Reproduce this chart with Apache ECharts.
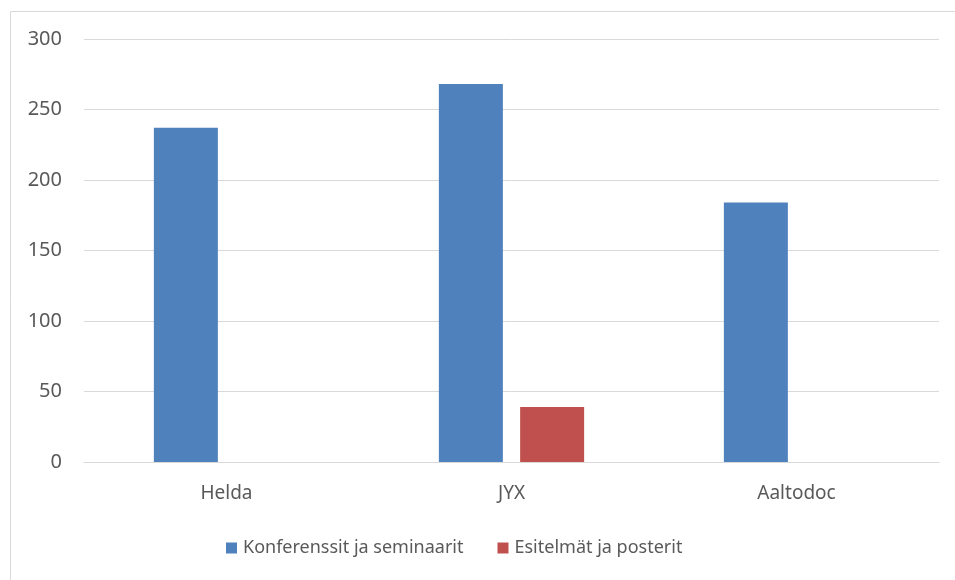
<!DOCTYPE html>
<html>
<head>
<meta charset="utf-8">
<script src="https://cdn.jsdelivr.net/npm/echarts@6/dist/echarts.min.js"></script>
<style>
  html, body { margin: 0; padding: 0; background: #fff; }
  #container { width: 955px; height: 580px; }
</style>
</head>
<body>
<div id="container"></div>
<script>
var categories = ["Helda", "JYX", "Aaltodoc"];
var konferenssit = [237, 268, 184];
var esitelmat = [null, 39, null];
var yTicks = { min: 0, max: 300, interval: 50 };

var dom = document.getElementById("container");
var myChart = echarts.init(dom, null, { renderer: "canvas" });

var font = "Noto Sans";
var textColor = "#595959";

var option = {
  animation: false,
  backgroundColor: "#fff",
  graphic: [
    {
      type: "rect",
      left: 8,
      top: 9,
      shape: { width: 1000, height: 700 },
      style: { fill: "none", stroke: "#D9D9D9", lineWidth: 1 },
      silent: true
    }
  ],
  grid: { left: 84, right: 16, top: 39, bottom: 118 },
  legend: {
    bottom: 18,
    left: 221,
    itemWidth: 11,
    itemHeight: 11,
    itemGap: 34,
    icon: "rect",
    textStyle: { color: textColor, fontFamily: font, fontSize: 18, padding: [0, 0, 0, 1] },
    data: ["Konferenssit ja seminaarit", "Esitelmät ja posterit"]
  },
  xAxis: {
    type: "category",
    data: categories,
    axisLine: { lineStyle: { color: "#D9D9D9", width: 1 } },
    axisTick: { show: false },
    axisLabel: { color: textColor, fontFamily: font, fontSize: 19, margin: 22 }
  },
  yAxis: {
    type: "value",
    min: yTicks.min,
    max: yTicks.max,
    interval: yTicks.interval,
    axisLine: { show: false },
    axisTick: { show: false },
    splitLine: { lineStyle: { color: "#D9D9D9", width: 1 } },
    axisLabel: { color: textColor, fontFamily: font, fontSize: 20, margin: 22 }
  },
  series: [
    {
      name: "Konferenssit ja seminaarit",
      type: "bar",
      data: konferenssit,
      barWidth: 64,
      barGap: "27%",
      itemStyle: { color: "#4F81BD" }
    },
    {
      name: "Esitelmät ja posterit",
      type: "bar",
      data: esitelmat,
      barWidth: 64,
      barGap: "27%",
      itemStyle: { color: "#C0504D" }
    }
  ]
};

myChart.setOption(option);
window.addEventListener("resize", myChart.resize);
</script>
</body>
</html>
